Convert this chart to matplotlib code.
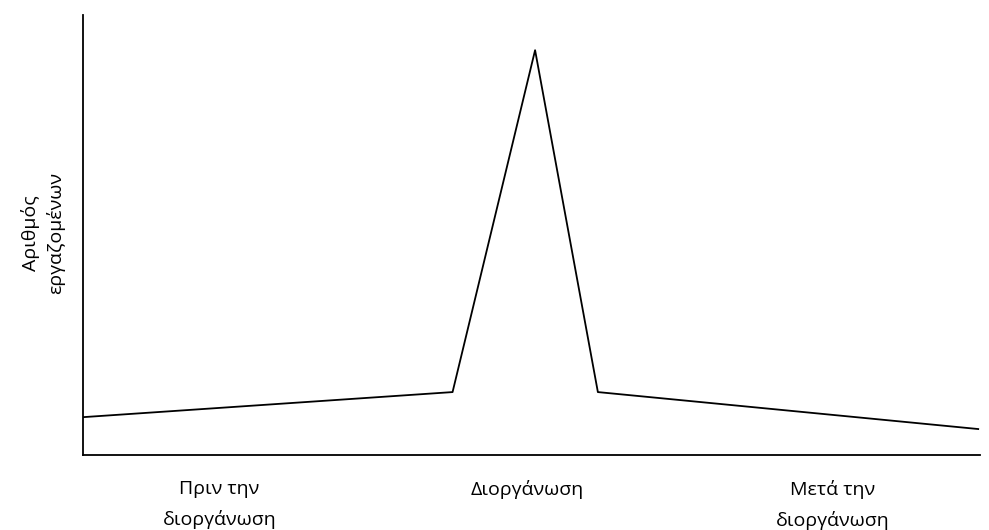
import matplotlib.pyplot as plt

plt.rcParams['font.family'] = ['Open Sans', 'DejaVu Sans']

# data (axis units 0-100)
x_pts = [0, 41.2, 50.4, 57.4, 99.8]
y_pts = [8.6, 14.3, 92.0, 14.3, 5.9]

cat_labels = ["Πριν την\nδιοργάνωση", "Διοργάνωση", "Μετά την\nδιοργάνωση"]
cat_pos = [15.2, 49.5, 83.6]
y_label = "Αριθμός\nεργαζομένων"

fig = plt.figure(figsize=(9.89, 5.30), dpi=100)
ax = fig.add_axes([83 / 989, 75 / 530, 897 / 989, 440 / 530])

ax.plot(x_pts, y_pts, color="black", linewidth=1.3)
ax.set_xlim(0, 100)
ax.set_ylim(0, 100)

for s in ["top", "right"]:
    ax.spines[s].set_visible(False)
for s in ["left", "bottom"]:
    ax.spines[s].set_linewidth(1.3)
ax.set_xticks([])
ax.set_yticks([])

# category labels under the axis
for lab, xp in zip(cat_labels, cat_pos):
    ax.text(xp, -5.6, lab, ha="center", va="top", fontsize=14,
            linespacing=1.8, transform=ax.transData, clip_on=False)

fig.text(43 / 989, 1 - 233 / 530, y_label, rotation=90, ha="center",
         va="center", fontsize=14, linespacing=1.35)

fig.savefig("out.png", dpi=100)
